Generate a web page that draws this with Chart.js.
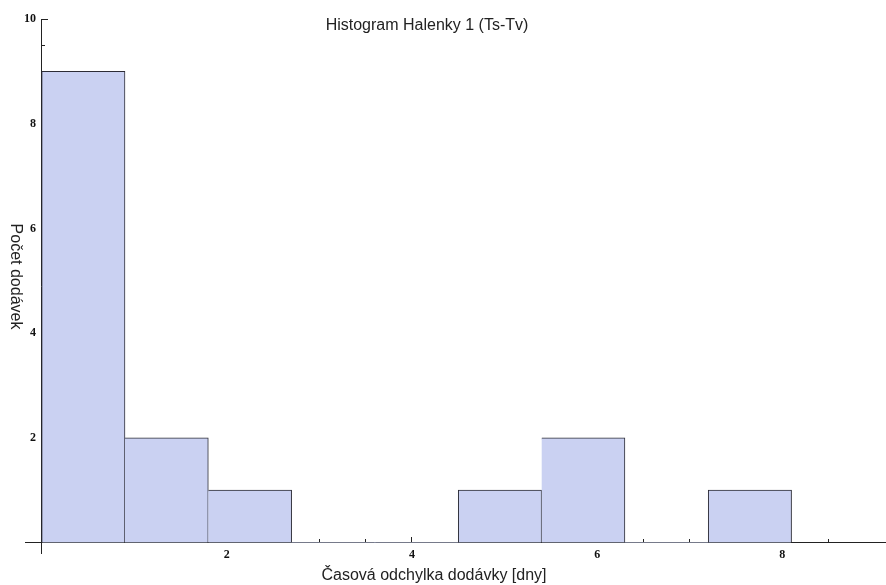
<!DOCTYPE html>
<html>
<head>
<meta charset="utf-8">
<title>Histogram Halenky 1 (Ts-Tv)</title>
<script src="https://cdn.jsdelivr.net/npm/chart.js@4.4.1/dist/chart.umd.min.js"></script>
<style>
  html, body { margin: 0; padding: 0; background: #fff; }
  #chart { display: block; }
</style>
</head>
<body>
<canvas id="chart" width="886" height="585"></canvas>
<script>
// Histogram bins (edges) and number of deliveries in each bin
const binEdges = [0, 0.9, 1.8, 2.7, 3.6, 4.5, 5.4, 6.3, 7.2, 8.1];
const binCounts = [9, 2, 1, 0, 0, 1, 2, 0, 1];

// Axis ranges and labelled ticks
const xRange = [-0.18, 9.12];
const yRange = [-0.2, 10];
const xTickLabels = [2, 4, 6, 8];
const yTickLabels = [2, 4, 6, 8, 10];

// Texts
const chartTitle = 'Histogram Halenky 1 (Ts-Tv)';
const xTitle = 'Časová odchylka dodávky [dny]';
const yTitle = 'Počet dodávek';

const axisColor = '#222';
const tickFont = { family: 'Liberation Serif', size: 12, weight: '600' };

// keep only the half-unit minor ticks
function keepHalfSteps(scale) {
  scale.ticks = scale.ticks.filter(t => Math.abs(t.value * 2 - Math.round(t.value * 2)) < 1e-6);
}

// titles drawn on top (y title reads top to bottom like the original)
const titlesPlugin = {
  id: 'titles',
  afterDraw(chart) {
    const ctx = chart.ctx;
    ctx.save();
    ctx.fillStyle = '#222';
    ctx.font = '16px "Liberation Sans"';
    ctx.textAlign = 'center';
    ctx.textBaseline = 'alphabetic';
    ctx.fillText(chartTitle, 427, 30);
    ctx.fillText(xTitle, 434, 580);
    ctx.translate(10.5, 276.5);
    ctx.rotate(Math.PI / 2);
    ctx.fillText(yTitle, 0, 0);
    ctx.restore();
  }
};

new Chart('chart', {
  type: 'bar',
  data: {
    datasets: [{
      data: binCounts.map((c, i) => ({ x: (binEdges[i] + binEdges[i + 1]) / 2, y: c })),
      backgroundColor: '#cad1f2',
      borderColor: '#2c2c36',
      borderWidth: ctx => {
        const i = ctx.dataIndex;
        if (!binCounts[i]) return 0;
        const left = (i === 0 || !binCounts[i - 1]) ? 1 : 0;
        return { top: 1, right: 1, bottom: 0, left: left };
      },
      borderSkipped: false,
      barPercentage: 1,
      categoryPercentage: 1,
      xAxisID: 'x2',
      yAxisID: 'y'
    }]
  },
  options: {
    responsive: false,
    animation: false,
    layout: { padding: { left: 25, right: 0, top: 19, bottom: 32 } },
    plugins: {
      legend: { display: false },
      tooltip: { enabled: false },
      title: { display: false }
    },
    scales: {
      // minor x ticks + axis line
      x: {
        type: 'linear',
        min: xRange[0], max: xRange[1],
        offset: false,
        position: { y: 0 },
        afterFit: s => { s.height = 0; },
        afterBuildTicks: keepHalfSteps,
        ticks: { stepSize: 0.5, display: false },
        grid: { drawOnChartArea: false, tickLength: -4, tickColor: axisColor, offset: false },
        border: { display: true, color: axisColor, width: 1 }
      },
      // major x ticks with labels
      x2: {
        type: 'linear',
        axis: 'x',
        min: xRange[0], max: xRange[1],
        offset: false,
        position: { y: 0 },
        afterFit: s => { s.height = 0; },
        afterBuildTicks: s => { s.ticks = xTickLabels.map(v => ({ value: v })); },
        ticks: { font: tickFont, color: '#111', padding: 11, maxRotation: 0, callback: v => String(v) },
        grid: { drawOnChartArea: false, tickLength: -6, tickColor: axisColor, offset: false },
        border: { display: false }
      },
      // minor y ticks + axis line
      y: {
        type: 'linear',
        min: yRange[0], max: yRange[1],
        position: { x: 0 },
        afterFit: s => { s.width = 0; },
        afterBuildTicks: keepHalfSteps,
        ticks: { stepSize: 0.5, display: false },
        grid: { drawOnChartArea: false, tickLength: -4, tickColor: axisColor },
        border: { display: true, color: axisColor, width: 1 }
      },
      // major y ticks
      y2: {
        type: 'linear',
        axis: 'y',
        min: yRange[0], max: yRange[1],
        position: { x: 0 },
        afterFit: s => { s.width = 0; },
        afterBuildTicks: s => { s.ticks = yTickLabels.map(v => ({ value: v })); },
        ticks: { display: false },
        grid: { drawOnChartArea: false, tickLength: -6, tickColor: axisColor },
        border: { display: false }
      },
      // y labels, set a little left of the axis line
      y3: {
        type: 'linear',
        axis: 'y',
        min: yRange[0], max: yRange[1],
        position: { x: -0.062 },
        afterFit: s => { s.width = 0; },
        afterBuildTicks: s => { s.ticks = yTickLabels.map(v => ({ value: v })); },
        ticks: { font: tickFont, color: '#111', padding: 0, callback: v => String(v) },
        grid: { display: false, drawOnChartArea: false, drawTicks: false },
        border: { display: false }
      }
    }
  },
  plugins: [titlesPlugin]
});
</script>
</body>
</html>
